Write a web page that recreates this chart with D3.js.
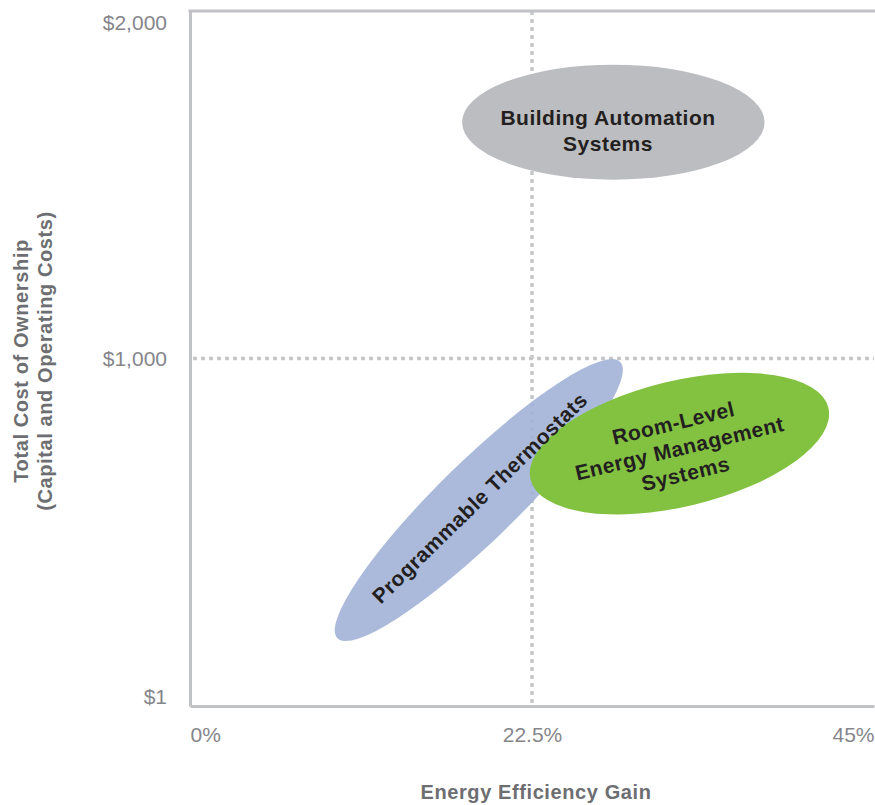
<!DOCTYPE html>
<html>
<head>
<meta charset="utf-8">
<script src="https://cdn.jsdelivr.net/npm/d3@7"></script>
<style>
  body { margin: 0; background: #fff; }
  svg { font-family: "Liberation Sans", Arial, sans-serif; }
</style>
</head>
<body>
<svg width="875" height="805"></svg>
<script>
// **** data ****
var xTickValues = [0, 22.5, 45];
var xTickLabels = ["0%", "22.5%", "45%"];
var yTickValues = [1, 1000, 2000];
var yTickLabels = ["$1", "$1,000", "$2,000"];

var solutions = ["Building Automation Systems", "Programmable Thermostats", "Room-Level Energy Management Systems"];
// ends of each ellipse's long axis, as [efficiency gain %, cost $]
var axisStart = [[17.9, 1680], [9.7, 195], [22.4, 652]];
var axisEnd = [[37.8, 1680], [28.3, 990], [42.0, 858]];
// short axis / long axis
var widthRatio = [0.38, 0.2, 0.41];
var labelAt = [[27.5, 1657], [19.05, 599], [32.2, 742]];
var labelLines = [["Building Automation", "Systems"], ["Programmable Thermostats"], ["Room-Level", "Energy Management", "Systems"]];

var svg = d3.select("svg");

// scales
var xScale = d3.scaleLinear().domain([0, 45]).range([190, 874]);
var yScale = d3.scaleLinear().domain([0, 2000]).range([706, 11]);
var colorScale = d3.scaleOrdinal()
	.domain(solutions)
	.range(["#bcbdc0", "#a2b2d7", "#83c241"]);

// dotted guide lines
var grid = svg.append("g")
	.attr("stroke", "#c6c7c9")
	.attr("stroke-width", 3.5)
	.attr("stroke-dasharray", "4,4");
grid.append("line")
	.attr("x1", xScale(22.5)).attr("x2", xScale(22.5))
	.attr("y1", yScale(2000)).attr("y2", yScale(0));
grid.append("line")
	.attr("x1", xScale(0) + 3).attr("x2", xScale(45))
	.attr("y1", yScale(1000)).attr("y2", yScale(1000));

// ellipses
var shapes = solutions.map(function(name, i) {
	var x1 = xScale(axisStart[i][0]), y1 = yScale(axisStart[i][1]);
	var x2 = xScale(axisEnd[i][0]), y2 = yScale(axisEnd[i][1]);
	var rx = Math.hypot(x2 - x1, y2 - y1) / 2;
	return {
		name: name,
		cx: (x1 + x2) / 2,
		cy: (y1 + y2) / 2,
		rx: rx,
		ry: rx * widthRatio[i],
		angle: Math.atan2(y2 - y1, x2 - x1) * 180 / Math.PI,
		lx: xScale(labelAt[i][0]),
		ly: yScale(labelAt[i][1]),
		lines: labelLines[i]
	};
});

svg.append("g").selectAll("ellipse")
	.data(shapes)
	.enter()
	.append("ellipse")
	.attr("transform", function(d) { return "translate(" + d.cx + "," + d.cy + ") rotate(" + d.angle + ")"; })
	.attr("rx", function(d) { return d.rx; })
	.attr("ry", function(d) { return d.ry; })
	.attr("fill", function(d) { return colorScale(d.name); })
	.attr("fill-opacity", function(d, i) { return i == 1 ? 0.9 : 1; });

// axes
var xAxis = d3.axisBottom(xScale)
	.tickValues(xTickValues)
	.tickFormat(function(d, i) { return xTickLabels[i]; })
	.tickSize(0)
	.tickSizeOuter(0)
	.tickPadding(21);
var yAxis = d3.axisLeft(yScale)
	.tickValues(yTickValues)
	.tickFormat(function(d, i) { return yTickLabels[i]; })
	.tickSize(0)
	.tickSizeOuter(0)
	.tickPadding(23);

var gx = svg.append("g")
	.attr("transform", "translate(0," + yScale(0) + ")")
	.call(xAxis);
var gy = svg.append("g")
	.attr("transform", "translate(" + xScale(0) + ",0)")
	.call(yAxis);

[gx, gy].forEach(function(g) {
	g.select(".domain").attr("stroke", "#c1c2c5").attr("stroke-width", 3);
	g.selectAll("text")
		.attr("fill", "#85868a")
		.style("font-size", "21px");
});
gx.selectAll(".tick text")
	.attr("text-anchor", function(d, i) { return i == 0 ? "start" : (i == xTickValues.length - 1 ? "end" : "middle"); });
// end labels sit inside the frame
gy.selectAll(".tick text")
	.attr("dy", function(d) { return d == 2000 ? "0.9em" : (d == 1 ? "-0.1em" : "0.32em"); });

// top border
svg.append("line")
	.attr("x1", xScale(0) - 1.5).attr("x2", 875)
	.attr("y1", yScale(2000)).attr("y2", yScale(2000))
	.attr("stroke", "#c1c2c5")
	.attr("stroke-width", 3);

// ellipse labels
var labels = svg.append("g").selectAll("g")
	.data(shapes)
	.enter()
	.append("g")
	.attr("transform", function(d) { return "translate(" + d.lx + "," + d.ly + ") rotate(" + d.angle + ")"; });

labels.selectAll("text")
	.data(function(d) { return d.lines.map(function(t, j) { return { t: t, j: j, n: d.lines.length }; }); })
	.enter()
	.append("text")
	.attr("text-anchor", "middle")
	.attr("y", function(d) { return (d.j - (d.n - 1) / 2) * 26 + 7.5; })
	.attr("fill", "#231f20")
	.style("font-size", "21px")
	.style("font-weight", "bold")
	.style("letter-spacing", "0.5px")
	.text(function(d) { return d.t; });

// axis titles
svg.append("text")
	.attr("x", 536)
	.attr("y", 799)
	.attr("text-anchor", "middle")
	.attr("fill", "#6d6e71")
	.style("font-size", "20px")
	.style("font-weight", "bold")
	.style("letter-spacing", "0.6px")
	.text("Energy Efficiency Gain");

var yTitle = svg.append("text")
	.attr("transform", "translate(28,361) rotate(-90)")
	.attr("text-anchor", "middle")
	.attr("fill", "#6d6e71")
	.style("font-size", "20px")
	.style("font-weight", "bold")
	.style("letter-spacing", "0.6px");
yTitle.append("tspan").attr("x", 0).attr("y", 0).text("Total Cost of Ownership");
yTitle.append("tspan").attr("x", 0).attr("y", 24).text("(Capital and Operating Costs)");
</script>
</body>
</html>
